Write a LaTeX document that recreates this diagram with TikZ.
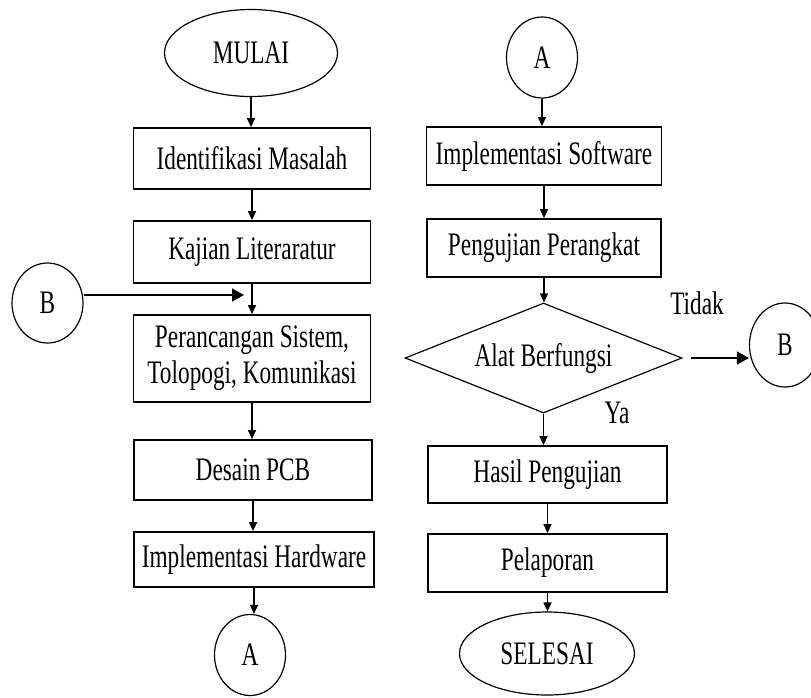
\documentclass[tikz,border=0pt]{standalone}
\usepackage{fontspec}
\setmainfont{Liberation Serif}[FakeStretch=0.71]
\usetikzlibrary{arrows.meta,shapes.geometric}

\begin{document}
\begin{tikzpicture}[x=1pt, y=-1pt,
		font=\fontsize{32.8}{36}\selectfont,
		prosesbox/.style={draw, line width=1.8pt, inner sep=0pt, align=center, minimum width=237pt},
		terminal/.style={draw, ellipse, line width=1.2pt, inner sep=0pt, minimum width=173pt, minimum height=87pt},
		konektor/.style={draw, ellipse, line width=1.2pt, inner sep=0pt, minimum width=71pt, minimum height=81pt},
		keputusan/.style={draw, diamond, aspect=2.5, line width=1.2pt, inner sep=0pt, minimum width=277pt, minimum height=110pt},
		panah/.style={-{Triangle[length=9pt,width=8pt]}, line width=1.4pt},
		panahbesar/.style={-{Triangle[length=12pt,width=13pt]}, line width=1.6pt}]
		\useasboundingbox (0,0) rectangle (811,697);

		% kolom kiri
		\node[terminal] (mulai) at (251, 53) {MULAI};
		\node[prosesbox, minimum height=61pt] (identifikasi) at (252, 158.5) {Identifikasi Masalah};
		\node[prosesbox, minimum height=62pt] (kajian) at (252, 252) {Kajian Literaratur};
		\node[prosesbox, minimum height=87pt] (perancangan) at (252, 358.5) {Perancangan Sistem,\\Tolopogi, Komunikasi};
		\node[prosesbox, minimum height=60pt, minimum width=238pt] (desain) at (253, 470) {Desain PCB};
		\node[prosesbox, minimum height=55pt, minimum width=240pt] (hardware) at (254, 559.5) {Implementasi Hardware};
		\node[konektor] (akiri) at (250, 655) {A};
		\node[konektor, minimum height=80pt] (bkiri) at (47.5, 303) {B};
		\coordinate (gabung) at (244, 295);

		% kolom kanan
		\node[konektor] (akanan) at (542, 57.5) {A};
		\node[prosesbox, minimum height=58pt, minimum width=235pt] (software) at (544, 156) {Implementasi Software};
		\node[prosesbox, minimum height=58pt, minimum width=234pt] (pengujian) at (544, 248) {Pengujian Perangkat};
		\node[keputusan] (berfungsi) at (543.5, 358) {Alat Berfungsi};
		\node[prosesbox, minimum height=57pt, minimum width=239pt] (hasil) at (547.5, 474.5) {Hasil Pengujian};
		\node[prosesbox, minimum height=58pt, minimum width=239pt] (pelaporan) at (547.5, 563) {Pelaporan};
		\node[terminal, minimum width=175pt, minimum height=83pt] (selesai) at (547, 653.5) {SELESAI};
		\node[konektor, minimum height=84pt] (bkanan) at (785, 345) {B};
		\node (tidak) at (697, 303) {Tidak};
		\node (ya) at (617, 413) {Ya};

		\draw[panah] (mulai.south) -- (mulai.south |- identifikasi.north);
		\draw[panah] (identifikasi.south) -- (identifikasi.south |- kajian.north);
		\draw[panah] (kajian.south) -- (kajian.south |- perancangan.north);
		\draw[panah] (perancangan.south) -- (perancangan.south |- desain.north);
		\draw[panah] (desain.south) -- (desain.south |- hardware.north);
		\draw[panah] (hardware.south) -- (hardware.south |- akiri.north);
		\draw[panahbesar] (bkiri.east |- gabung) -- (gabung);

		\draw[panah] (akanan.south) -- (akanan.south |- software.north);
		\draw[panah] (software.south) -- (software.south |- pengujian.north);
		\draw[panah] (pengujian.south) -- (pengujian.south |- berfungsi.north);
		\draw[panah] (berfungsi.south) -- (berfungsi.south |- hasil.north);
		\draw[panah] (hasil.south) -- (hasil.south |- pelaporan.north);
		\draw[panah] (pelaporan.south) -- (pelaporan.south |- selesai.north);
		\draw[panahbesar, shorten <=8pt] (berfungsi.east) -- (berfungsi.east -| bkanan.west);
	\end{tikzpicture}
\end{document}
